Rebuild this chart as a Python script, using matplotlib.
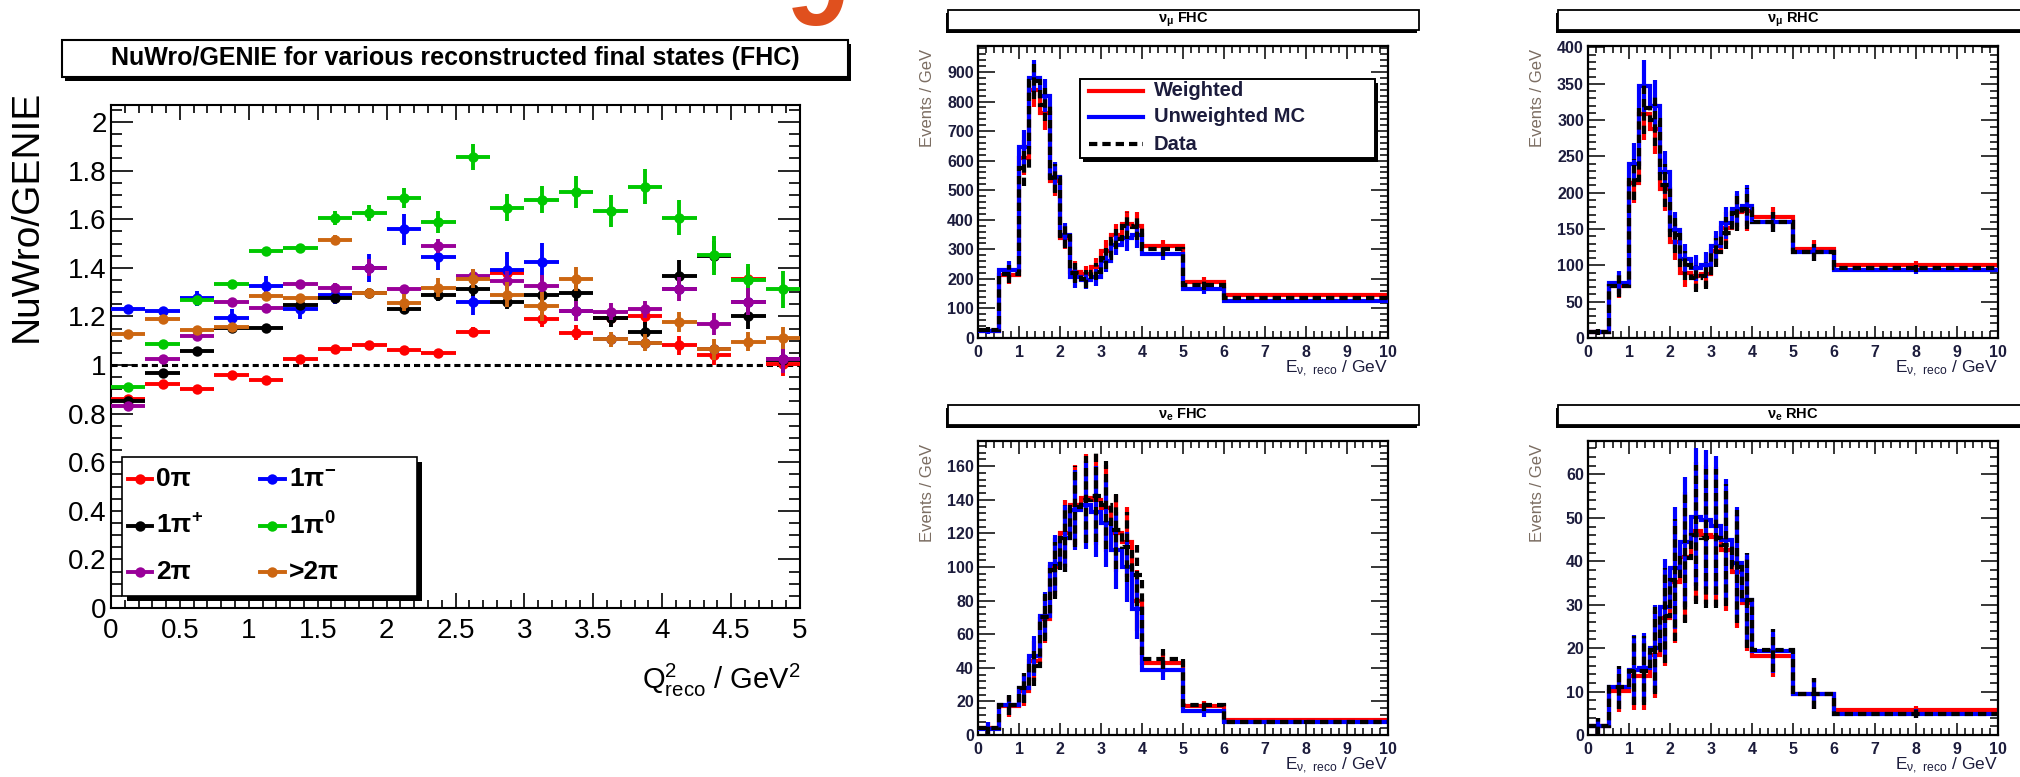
import matplotlib
matplotlib.use('Agg')
import matplotlib.pyplot as plt
import numpy as np
from matplotlib.patches import Rectangle
from matplotlib.lines import Line2D
from matplotlib.ticker import MultipleLocator, FormatStrFormatter
import matplotlib.transforms as mtransforms

plt.rcParams['font.family'] = ['Liberation Sans', 'DejaVu Sans']
plt.rcParams['mathtext.default'] = 'regular'

# ---------------- data: left panel (NuWro/GENIE ratio vs Q2) ----------------
q2_edges = [0.0, 0.25, 0.5, 0.75, 1.0, 1.25, 1.5, 1.75, 2.0, 2.25, 2.5,
            2.75, 3.0, 3.25, 3.5, 3.75, 4.0, 4.25, 4.5, 4.75, 5.0]
ratio_0pi = [0.86, 0.92, 0.90, 0.958, 0.937, 1.023, 1.064, 1.081, 1.062, 1.048,
             1.136, 1.38, 1.188, 1.133, 1.195, 1.20, 1.081, 1.04, 1.352, 1.003]
err_0pi = [0.01, 0.01, 0.01, 0.01, 0.01, 0.01, 0.012, 0.012, 0.012, 0.012,
           0.02, 0.02, 0.03, 0.03, 0.03, 0.035, 0.04, 0.04, 0.05, 0.05]
ratio_1pim = [1.232, 1.222, 1.274, 1.195, 1.327, 1.229, 1.29, 1.40, 1.558, 1.445,
              1.259, 1.393, 1.423, 1.222, 1.105, 1.092, 1.314, 1.064, 1.26, 1.026]
err_1pim = [0.012, 0.015, 0.03, 0.035, 0.038, 0.04, 0.04, 0.058, 0.065, 0.055,
            0.055, 0.072, 0.078, 0.02, 0.02, 0.02, 0.02, 0.02, 0.02, 0.02]
ratio_1pip = [0.85, 0.966, 1.058, 1.153, 1.153, 1.245, 1.274, 1.297, 1.229, 1.29,
              1.311, 1.259, 1.29, 1.297, 1.195, 1.136, 1.368, 1.45, 1.20, 1.02]
err_1pip = [0.01, 0.015, 0.012, 0.012, 0.012, 0.015, 0.02, 0.02, 0.02, 0.025,
            0.025, 0.03, 0.03, 0.035, 0.04, 0.04, 0.065, 0.06, 0.05, 0.05]
ratio_1pi0 = [0.91, 1.085, 1.268, 1.334, 1.468, 1.482, 1.605, 1.626, 1.688, 1.588,
              1.855, 1.647, 1.681, 1.711, 1.633, 1.733, 1.605, 1.451, 1.348, 1.311]
err_1pi0 = [0.01, 0.012, 0.018, 0.015, 0.015, 0.015, 0.03, 0.032, 0.04, 0.045,
            0.053, 0.055, 0.055, 0.065, 0.065, 0.072, 0.072, 0.08, 0.068, 0.075]
ratio_2pi = [0.83, 1.026, 1.119, 1.26, 1.236, 1.334, 1.318, 1.40, 1.311, 1.489,
             1.366, 1.345, 1.325, 1.222, 1.219, 1.229, 1.314, 1.167, 1.26, 1.026]
err_2pi = [0.015, 0.015, 0.02, 0.015, 0.015, 0.015, 0.02, 0.035, 0.02, 0.03,
           0.03, 0.04, 0.045, 0.04, 0.035, 0.035, 0.05, 0.045, 0.055, 0.06]
ratio_gt2pi = [1.129, 1.188, 1.142, 1.156, 1.286, 1.274, 1.516, 1.297, 1.256, 1.318,
               1.355, 1.29, 1.242, 1.355, 1.105, 1.092, 1.177, 1.064, 1.096, 1.112]
err_gt2pi = [0.01, 0.015, 0.015, 0.012, 0.015, 0.015, 0.02, 0.02, 0.035, 0.04,
             0.04, 0.05, 0.06, 0.05, 0.03, 0.035, 0.04, 0.045, 0.04, 0.045]
series_labels = ['0π', '1π$^{-}$', '1π$^{+}$', '1π$^{0}$', '2π', '>2π']

# ---------------- data: energy spectra ----------------
e_edges = [0.0, 0.5, 1.0, 1.25, 1.5, 1.75, 2.0, 2.25, 2.5, 2.75, 3.0,
           3.25, 3.5, 3.75, 4.0, 5.0, 6.0, 10.0]

numu_fhc_weighted = [25, 213, 610, 840, 760, 530, 340, 225, 215, 240, 295, 350, 385, 380, 310, 188, 145]
numu_fhc_unweighted = [22, 231, 645, 880, 820, 545, 350, 205, 195, 205, 260, 315, 340, 350, 285, 166, 126]
numu_fhc_data = [28, 216, 575, 870, 790, 540, 345, 220, 200, 225, 270, 335, 380, 375, 300, 178, 135]
numu_fhc_err = [8, 30, 60, 60, 55, 50, 40, 35, 30, 30, 35, 35, 45, 45, 22, 17, 6]

numu_rhc_weighted = [8, 71, 214, 308, 288, 205, 132, 90, 86, 88, 120, 152, 173, 175, 166, 123, 101]
numu_rhc_unweighted = [8, 76, 240, 347, 320, 228, 148, 109, 96, 100, 127, 158, 178, 182, 160, 118, 93]
numu_rhc_data = [8, 72, 218, 317, 300, 210, 142, 100, 82, 86, 118, 145, 172, 178, 160, 118, 96]
numu_rhc_err = [4, 16, 28, 36, 35, 30, 25, 20, 18, 18, 20, 22, 25, 28, 14, 12, 5]

nue_fhc_weighted = [4, 17, 26, 44, 69, 100, 120, 137, 141, 140, 135, 120, 115, 80, 43, 17, 9]
nue_fhc_unweighted = [3.5, 18, 28, 47, 71, 102, 117, 134, 137, 133, 126, 110, 100, 75, 38.5, 14.5, 7.5]
nue_fhc_data = [4, 18, 28, 41, 70, 98, 117, 136, 140, 142, 137, 122, 112, 95, 45, 18, 8]
nue_fhc_err = [4, 6, 9, 12, 14, 17, 20, 24, 26, 27, 26, 23, 21, 18, 6, 3.5, 1.2]

nue_rhc_weighted = [2, 10.2, 13.7, 13.7, 18.5, 27, 35.3, 41, 46.9, 46.1, 45.6, 42.6, 37.6, 30.3, 18.3, 9.5, 5.7]
nue_rhc_unweighted = [2, 11, 15, 15.5, 20, 29.5, 38.4, 44.5, 50.2, 49.6, 48.2, 45, 39.5, 31, 19.3, 9.5, 4.9]
nue_rhc_data = [2, 11, 14.8, 14.8, 19.5, 27.5, 35.7, 40.7, 46.1, 45.3, 45.3, 43.8, 38.8, 31, 19.5, 9.5, 4.9]
nue_rhc_err = [2, 5, 8, 8, 10, 11, 14, 15, 16, 16, 16, 14, 13, 11, 5, 3.6, 1.0]

panel_titles = ['ν$_{μ}$ FHC', 'ν$_{μ}$ RHC', 'ν$_{e}$ FHC', 'ν$_{e}$ RHC']
legend_labels = ['Weighted', 'Unweighted MC', 'Data']

# ---------------- figure ----------------
W, H = 2020, 777
fig = plt.figure(figsize=(W / 100, H / 100), dpi=100)


def fx(x):
    return x / W


def fy(y):
    return 1 - y / H


def ax_px(x0, y0, x1, y1):
    return fig.add_axes([fx(x0), fy(y1), (x1 - x0) / W, (y1 - y0) / H])


def box_px(x0, y0, x1, y1, sx=4, sy=4, lw=1.5):
    fig.add_artist(Rectangle((fx(x0 + sx), fy(y1 + sy)), (x1 - x0) / W, (y1 - y0) / H,
                             transform=fig.transFigure, facecolor='black',
                             edgecolor='none', zorder=1))
    fig.add_artist(Rectangle((fx(x0), fy(y1)), (x1 - x0) / W, (y1 - y0) / H,
                             transform=fig.transFigure, facecolor='white',
                             edgecolor='black', lw=lw, zorder=2))


# orange glyph cut by the top edge (part of a slide heading)
fig.text(fx(786), fy(25), '9', fontsize=80, weight='bold', color='#E0501E',
         ha='left', va='baseline')

# ---------------- left panel ----------------
box_px(62, 40, 848, 77, sx=3, sy=4)
fig.text(fx(455), fy(58.5), 'NuWro/GENIE for various reconstructed final states (FHC)',
         ha='center', va='center', fontsize=18, weight='bold', zorder=3)

ylim_top = 2.07
axL = ax_px(111, 608 - 243 * ylim_top, 800, 608)
axL.set_xlim(0, 5)
axL.set_ylim(0, ylim_top)
for s in axL.spines.values():
    s.set_linewidth(1.5)
axL.xaxis.set_major_locator(MultipleLocator(0.5))
axL.xaxis.set_minor_locator(MultipleLocator(0.1))
axL.yaxis.set_major_locator(MultipleLocator(0.2))
axL.yaxis.set_minor_locator(MultipleLocator(0.05))
axL.xaxis.set_major_formatter(FormatStrFormatter('%g'))
axL.yaxis.set_major_formatter(FormatStrFormatter('%g'))
axL.tick_params(which='both', direction='in', top=True, right=True, width=1.2)
axL.tick_params(axis='y', which='major', length=16, pad=3, labelsize=20)
axL.tick_params(axis='y', which='minor', length=8)
axL.tick_params(axis='x', which='major', length=11, pad=7, labelsize=20)
axL.tick_params(axis='x', which='minor', length=6)

axL.axhline(1.0, color='black', lw=2.2, ls=(0, (2, 1.3)), zorder=1)

qe = np.array(q2_edges)
qc = 0.5 * (qe[1:] + qe[:-1])
qw = 0.5 * (qe[1:] - qe[:-1])
ratio_series = [
    (ratio_0pi, err_0pi, '#FF0000'),
    (ratio_1pim, err_1pim, '#0000FF'),
    (ratio_1pip, err_1pip, '#000000'),
    (ratio_1pi0, err_1pi0, '#00C800'),
    (ratio_2pi, err_2pi, '#990099'),
    (ratio_gt2pi, err_gt2pi, '#CC6611'),
]
for z, (vals, errs, col) in enumerate(ratio_series):
    axL.errorbar(qc, vals, xerr=qw, yerr=errs, fmt='o', color=col, ms=7.5, mew=0,
                 elinewidth=2.8, capsize=0, zorder=3 + z)

# legend of left panel
sh = mtransforms.offset_copy(axL.transData, fig=fig, x=5, y=-5, units='dots')
axL.add_patch(Rectangle((0.08, 0.05), 2.14, 0.57, transform=sh, facecolor='black',
                        edgecolor='none', zorder=20))
axL.add_patch(Rectangle((0.08, 0.05), 2.14, 0.57, facecolor='white',
                        edgecolor='black', lw=1.2, zorder=21))
rows_y = [0.53, 0.338, 0.147]
cols_x = [0.12, 1.08]
for i in range(6):
    r, c = i // 2, i % 2
    col = ratio_series[i][2]
    x0 = cols_x[c]
    y0 = rows_y[r]
    axL.add_line(Line2D([x0, x0 + 0.18], [y0, y0], color=col, lw=2.8, zorder=22))
    axL.add_line(Line2D([x0 + 0.09], [y0], marker='o', ms=7.5, mew=0, color=col, zorder=23))
    axL.text(x0 + 0.21, y0, series_labels[i], fontsize=19, weight='bold',
             va='center', ha='left', zorder=24)

fig.text(fx(27), fy(90), 'NuWro/GENIE', rotation=90, ha='center', va='top', fontsize=28)
fig.text(fx(800), fy(680), 'Q$^{2}_{reco}$ / GeV$^{2}$', ha='right', va='center', fontsize=21)

# ---------------- right panels ----------------
ee = np.array(e_edges)
ec = 0.5 * (ee[1:] + ee[:-1])
dash = (0, (2, 1.2))
tick_col = '#1c1c3c'


def spectrum(ax, red, blue, data, err, ytop, ymaj, ymin):
    ax.set_xlim(0, 10)
    ax.set_ylim(0, ytop)
    for s in ax.spines.values():
        s.set_linewidth(1.6)
    ax.xaxis.set_major_locator(MultipleLocator(1))
    ax.xaxis.set_minor_locator(MultipleLocator(0.2))
    ax.yaxis.set_major_locator(MultipleLocator(ymaj))
    ax.yaxis.set_minor_locator(MultipleLocator(ymin))
    ax.tick_params(which='both', direction='in', top=True, right=True, width=1.1,
                   labelsize=11.5, labelcolor=tick_col)
    ax.tick_params(axis='y', which='major', length=12, pad=3)
    ax.tick_params(axis='y', which='minor', length=6)
    ax.tick_params(axis='x', which='major', length=9, pad=5)
    ax.tick_params(axis='x', which='minor', length=5)
    for lab in ax.get_xticklabels() + ax.get_yticklabels():
        lab.set_fontweight('bold')
    ax.stairs(red, ee, color='#FF0000', lw=3.0, baseline=None, zorder=2)
    ax.errorbar(ec, red, yerr=err, fmt='none', ecolor='#FF0000', elinewidth=3.0, capsize=0, zorder=2)
    ax.stairs(blue, ee, color='#0000FF', lw=3.0, baseline=None, zorder=3)
    ax.errorbar(ec, blue, yerr=err, fmt='none', ecolor='#0000FF', elinewidth=3.0, capsize=0, zorder=3)
    ax.stairs(data, ee, color='black', lw=3.0, ls=dash, baseline=None, zorder=4)
    eb = ax.errorbar(ec, data, yerr=err, fmt='none', ecolor='black', elinewidth=3.0, capsize=0, zorder=4)
    for lc in eb[2]:
        lc.set_linestyle(dash)


panels = [
    ((978, 46, 1388, 338), numu_fhc_weighted, numu_fhc_unweighted, numu_fhc_data, numu_fhc_err, 988, 100, 20),
    ((1588, 46, 1998, 338), numu_rhc_weighted, numu_rhc_unweighted, numu_rhc_data, numu_rhc_err, 402, 50, 10),
    ((978, 441, 1388, 735), nue_fhc_weighted, nue_fhc_unweighted, nue_fhc_data, nue_fhc_err, 175, 20, 4),
    ((1588, 441, 1998, 735), nue_rhc_weighted, nue_rhc_unweighted, nue_rhc_data, nue_rhc_err, 67.7, 10, 2),
]
for k, (rect, rd, bl, dt, er, yt, ymj, ymn) in enumerate(panels):
    x0, y0, x1, y1 = rect
    ax = ax_px(x0, y0, x1, y1)
    spectrum(ax, rd, bl, dt, er, yt, ymj, ymn)
    by0 = y0 - 36
    box_px(x0 - 30, by0, x1 + 31, by0 + 20, sx=-2, sy=3, lw=1.3)
    fig.text(fx((x0 + x1) / 2), fy(by0 + 10), panel_titles[k], ha='center', va='center',
             fontsize=10.5, weight='bold', zorder=3)
    fig.text(fx(x0 - 51), fy(y0 + 3), 'Events / GeV', rotation=90, ha='center', va='top',
             fontsize=12, color='#7b6d62')
    fig.text(fx(x1), fy(y1 + 31), 'E$_{ν,\\ reco}$ / GeV', ha='right', va='center',
             fontsize=12.5, color=tick_col)

# legend in first spectrum panel
box_px(1080, 79, 1375, 158, sx=3, sy=4, lw=1.4)
leg_styles = [('#FF0000', '-'), ('#0000FF', '-'), ('black', dash)]
leg_y = [91, 117, 144]
for (col, ls), yy, lab in zip(leg_styles, leg_y, legend_labels):
    fig.add_artist(Line2D([fx(1089), fx(1143)], [fy(yy), fy(yy)], transform=fig.transFigure,
                          color=col, lw=3.0, ls=ls, zorder=3))
    fig.text(fx(1154), fy(yy), lab, ha='left', va='center', fontsize=14.5,
             weight='bold', color=tick_col, zorder=3)

fig.savefig('out.png', dpi=100)
